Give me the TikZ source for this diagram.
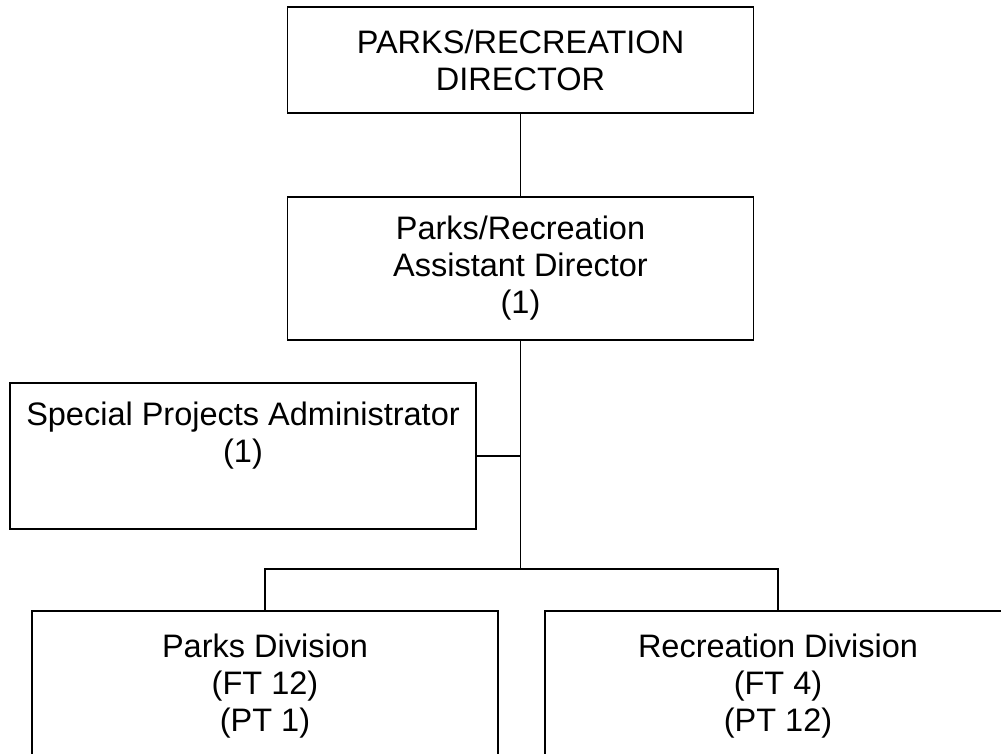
\documentclass[tikz,border=0pt]{standalone}
\usepackage{fontspec}
\setmainfont{Liberation Sans}
\begin{document}
\begin{tikzpicture}[x=1pt,y=-1pt,
  box/.style={draw=black, line width=1.6pt, fill=white, minimum width=466pt,
    inner sep=0pt, align=center, font=\fontsize{32.5}{37}\selectfont},
  txt/.style={inner sep=0pt, align=center, font=\fontsize{32.5}{37}\selectfont},
  link/.style={draw=black, line width=1.6pt}]
  \useasboundingbox (0,0) rectangle (1001,753);
  \clip (0,0) rectangle (1001,753);

  % top of the hierarchy
  \node[box, minimum height=106pt] (dir) at (520.5,60) {PARKS/RECREATION\\DIRECTOR};
  \node[box, minimum height=143pt] (asst) at (520.5,268.5)
    {Parks/Recreation\\Assistant Director\\(1)};

  % staff position beside the main line
  \node[box, minimum height=146pt] (spa) at (243,456)
    {Special Projects Administrator\\(1)\\\strut};

  % divisions (boxes run past the lower edge)
  \node[box, minimum height=220pt, anchor=north] (parks) at (265,610) {};
  \node[txt, anchor=north] (parkstxt) at ([yshift=-24pt]parks.north)
    {Parks Division\\(FT 12)\\(PT 1)};
  \node[box, minimum height=220pt, anchor=north] (rec) at (778,610) {};
  \node[txt, anchor=north] (rectxt) at ([yshift=-24pt]rec.north)
    {Recreation Division\\(FT 4)\\(PT 12)};

  % connectors
  \coordinate (bus) at (520.5,569);
  \draw[link] (dir.south) -- (asst.south |- dir.south) -- (asst.north);
  \draw[link] (asst.south) -- (bus);
  \draw[link] (spa.east) -- (spa.east -| asst.south);
  \draw[link] (parks.north) |- (bus) -| (rec.north);
\end{tikzpicture}
\end{document}
